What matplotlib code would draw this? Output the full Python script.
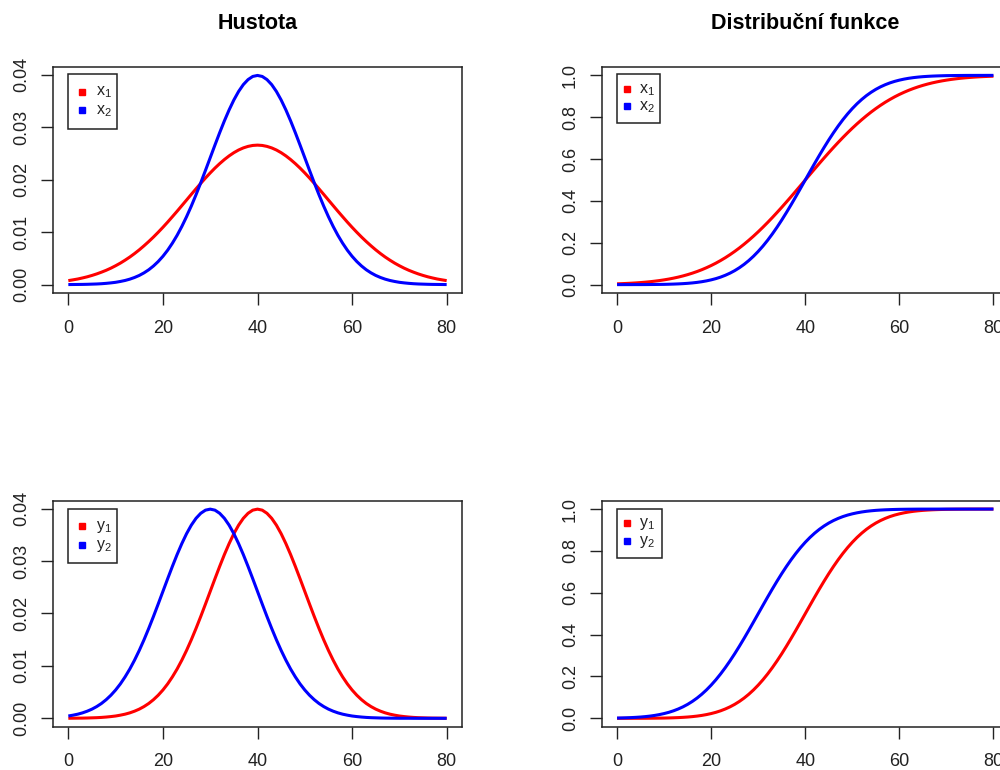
import matplotlib
matplotlib.use("Agg")
import matplotlib.pyplot as plt
from matplotlib.patches import Rectangle
from matplotlib.lines import Line2D

plt.rcParams['font.family'] = ['Liberation Sans', 'DejaVu Sans']

# ---------------- data (x = 0..80 step 1) ----------------
x_grid = list(range(0, 81))

dens_x1 = [0.00076, 0.00091, 0.00107, 0.00127, 0.00149, 0.00175, 0.00204, 0.00237, 0.00273, 0.00314,
           0.00360, 0.00410, 0.00466, 0.00526, 0.00592, 0.00663, 0.00740, 0.00821, 0.00907, 0.00998,
           0.01093, 0.01192, 0.01295, 0.01399, 0.01506, 0.01613, 0.01721, 0.01827, 0.01931, 0.02033,
           0.02130, 0.02222, 0.02307, 0.02385, 0.02455, 0.02516, 0.02567, 0.02607, 0.02636, 0.02654,
           0.02660,
           0.02654, 0.02636, 0.02607, 0.02567, 0.02516, 0.02455, 0.02385, 0.02307, 0.02222, 0.02130,
           0.02033, 0.01931, 0.01827, 0.01721, 0.01613, 0.01506, 0.01399, 0.01295, 0.01192, 0.01093,
           0.00998, 0.00907, 0.00821, 0.00740, 0.00663, 0.00592, 0.00526, 0.00466, 0.00410, 0.00360,
           0.00314, 0.00273, 0.00237, 0.00204, 0.00175, 0.00149, 0.00127, 0.00107, 0.00091, 0.00076]

dens_x2 = [0.00001, 0.00002, 0.00003, 0.00004, 0.00006, 0.00009, 0.00012, 0.00017, 0.00024, 0.00033,
           0.00044, 0.00060, 0.00079, 0.00104, 0.00136, 0.00175, 0.00224, 0.00283, 0.00355, 0.00440,
           0.00540, 0.00656, 0.00790, 0.00940, 0.01109, 0.01295, 0.01497, 0.01714, 0.01942, 0.02179,
           0.02420, 0.02661, 0.02897, 0.03123, 0.03332, 0.03521, 0.03683, 0.03814, 0.03910, 0.03970,
           0.03989,
           0.03970, 0.03910, 0.03814, 0.03683, 0.03521, 0.03332, 0.03123, 0.02897, 0.02661, 0.02420,
           0.02179, 0.01942, 0.01714, 0.01497, 0.01295, 0.01109, 0.00940, 0.00790, 0.00656, 0.00540,
           0.00440, 0.00355, 0.00283, 0.00224, 0.00175, 0.00136, 0.00104, 0.00079, 0.00060, 0.00044,
           0.00033, 0.00024, 0.00017, 0.00012, 0.00009, 0.00006, 0.00004, 0.00003, 0.00002, 0.00001]

cdf_x1 = [0.0038, 0.0047, 0.0057, 0.0068, 0.0082, 0.0098, 0.0117, 0.0139, 0.0165, 0.0194,
          0.0228, 0.0266, 0.0310, 0.0359, 0.0415, 0.0478, 0.0548, 0.0626, 0.0712, 0.0808,
          0.0912, 0.1026, 0.1151, 0.1285, 0.1431, 0.1587, 0.1753, 0.1931, 0.2119, 0.2317,
          0.2525, 0.2743, 0.2969, 0.3204, 0.3446, 0.3694, 0.3949, 0.4207, 0.4470, 0.4734,
          0.5000,
          0.5266, 0.5530, 0.5793, 0.6051, 0.6306, 0.6554, 0.6796, 0.7031, 0.7257, 0.7475,
          0.7683, 0.7881, 0.8069, 0.8247, 0.8413, 0.8569, 0.8715, 0.8849, 0.8974, 0.9088,
          0.9192, 0.9288, 0.9374, 0.9452, 0.9522, 0.9585, 0.9641, 0.9690, 0.9734, 0.9772,
          0.9806, 0.9835, 0.9861, 0.9883, 0.9902, 0.9918, 0.9932, 0.9943, 0.9953, 0.9962]

cdf_x2 = [0.0000, 0.0000, 0.0001, 0.0001, 0.0002, 0.0002, 0.0003, 0.0005, 0.0007, 0.0010,
          0.0013, 0.0019, 0.0026, 0.0035, 0.0047, 0.0062, 0.0082, 0.0107, 0.0139, 0.0179,
          0.0228, 0.0287, 0.0359, 0.0446, 0.0548, 0.0668, 0.0808, 0.0968, 0.1151, 0.1357,
          0.1587, 0.1841, 0.2119, 0.2420, 0.2743, 0.3085, 0.3446, 0.3821, 0.4207, 0.4602,
          0.5000,
          0.5398, 0.5793, 0.6179, 0.6554, 0.6915, 0.7257, 0.7580, 0.7881, 0.8159, 0.8413,
          0.8643, 0.8849, 0.9032, 0.9192, 0.9332, 0.9452, 0.9554, 0.9641, 0.9713, 0.9772,
          0.9821, 0.9861, 0.9893, 0.9918, 0.9938, 0.9953, 0.9965, 0.9974, 0.9981, 0.9987,
          0.9990, 0.9993, 0.9995, 0.9997, 0.9998, 0.9998, 0.9999, 0.9999, 1.0000, 1.0000]

dens_y1 = [0.00001, 0.00002, 0.00003, 0.00004, 0.00006, 0.00009, 0.00012, 0.00017, 0.00024, 0.00033,
           0.00044, 0.00060, 0.00079, 0.00104, 0.00136, 0.00175, 0.00224, 0.00283, 0.00355, 0.00440,
           0.00540, 0.00656, 0.00790, 0.00940, 0.01109, 0.01295, 0.01497, 0.01714, 0.01942, 0.02179,
           0.02420, 0.02661, 0.02897, 0.03123, 0.03332, 0.03521, 0.03683, 0.03814, 0.03910, 0.03970,
           0.03989,
           0.03970, 0.03910, 0.03814, 0.03683, 0.03521, 0.03332, 0.03123, 0.02897, 0.02661, 0.02420,
           0.02179, 0.01942, 0.01714, 0.01497, 0.01295, 0.01109, 0.00940, 0.00790, 0.00656, 0.00540,
           0.00440, 0.00355, 0.00283, 0.00224, 0.00175, 0.00136, 0.00104, 0.00079, 0.00060, 0.00044,
           0.00033, 0.00024, 0.00017, 0.00012, 0.00009, 0.00006, 0.00004, 0.00003, 0.00002, 0.00001]

dens_y2 = [0.00044, 0.00060, 0.00079, 0.00104, 0.00136, 0.00175, 0.00224, 0.00283, 0.00355, 0.00440,
           0.00540, 0.00656, 0.00790, 0.00940, 0.01109, 0.01295, 0.01497, 0.01714, 0.01942, 0.02179,
           0.02420, 0.02661, 0.02897, 0.03123, 0.03332, 0.03521, 0.03683, 0.03814, 0.03910, 0.03970,
           0.03989,
           0.03970, 0.03910, 0.03814, 0.03683, 0.03521, 0.03332, 0.03123, 0.02897, 0.02661, 0.02420,
           0.02179, 0.01942, 0.01714, 0.01497, 0.01295, 0.01109, 0.00940, 0.00790, 0.00656, 0.00540,
           0.00440, 0.00355, 0.00283, 0.00224, 0.00175, 0.00136, 0.00104, 0.00079, 0.00060, 0.00044,
           0.00033, 0.00024, 0.00017, 0.00012, 0.00009, 0.00006, 0.00004, 0.00003, 0.00002, 0.00001,
           0.00001, 0.00001, 0.00000, 0.00000, 0.00000, 0.00000, 0.00000, 0.00000, 0.00000, 0.00000]

cdf_y1 = [0.0000, 0.0000, 0.0001, 0.0001, 0.0002, 0.0002, 0.0003, 0.0005, 0.0007, 0.0010,
          0.0013, 0.0019, 0.0026, 0.0035, 0.0047, 0.0062, 0.0082, 0.0107, 0.0139, 0.0179,
          0.0228, 0.0287, 0.0359, 0.0446, 0.0548, 0.0668, 0.0808, 0.0968, 0.1151, 0.1357,
          0.1587, 0.1841, 0.2119, 0.2420, 0.2743, 0.3085, 0.3446, 0.3821, 0.4207, 0.4602,
          0.5000,
          0.5398, 0.5793, 0.6179, 0.6554, 0.6915, 0.7257, 0.7580, 0.7881, 0.8159, 0.8413,
          0.8643, 0.8849, 0.9032, 0.9192, 0.9332, 0.9452, 0.9554, 0.9641, 0.9713, 0.9772,
          0.9821, 0.9861, 0.9893, 0.9918, 0.9938, 0.9953, 0.9965, 0.9974, 0.9981, 0.9987,
          0.9990, 0.9993, 0.9995, 0.9997, 0.9998, 0.9998, 0.9999, 0.9999, 1.0000, 1.0000]

cdf_y2 = [0.0013, 0.0019, 0.0026, 0.0035, 0.0047, 0.0062, 0.0082, 0.0107, 0.0139, 0.0179,
          0.0228, 0.0287, 0.0359, 0.0446, 0.0548, 0.0668, 0.0808, 0.0968, 0.1151, 0.1357,
          0.1587, 0.1841, 0.2119, 0.2420, 0.2743, 0.3085, 0.3446, 0.3821, 0.4207, 0.4602,
          0.5000,
          0.5398, 0.5793, 0.6179, 0.6554, 0.6915, 0.7257, 0.7580, 0.7881, 0.8159, 0.8413,
          0.8643, 0.8849, 0.9032, 0.9192, 0.9332, 0.9452, 0.9554, 0.9641, 0.9713, 0.9772,
          0.9821, 0.9861, 0.9893, 0.9918, 0.9938, 0.9953, 0.9965, 0.9974, 0.9981, 0.9987,
          0.9990, 0.9993, 0.9995, 0.9997, 0.9998, 0.9998, 0.9999, 0.9999, 1.0000, 1.0000,
          1.0000, 1.0000, 1.0000, 1.0000, 1.0000, 1.0000, 1.0000, 1.0000, 1.0000, 1.0000]

titles = ["Hustota", "Distribuční funkce"]
x_ticks = [0, 20, 40, 60, 80]
dens_ticks = [0.00, 0.01, 0.02, 0.03, 0.04]
dens_ticklabels = ["0.00", "0.01", "0.02", "0.03", "0.04"]
cdf_ticks = [0.0, 0.2, 0.4, 0.6, 0.8, 1.0]
cdf_ticklabels = ["0.0", "0.2", "0.4", "0.6", "0.8", "1.0"]
labels_x = [r"$\mathregular{x_1}$", r"$\mathregular{x_2}$"]
labels_y = [r"$\mathregular{y_1}$", r"$\mathregular{y_2}$"]

RED = "#FF0000"
BLUE = "#0000FF"
INK = "#222222"

W, H = 1000, 770
fig = plt.figure(figsize=(10, 7.7), dpi=100)


def rect_px(l, t, r, b):
    return [l / W, 1 - b / H, (r - l) / W, (b - t) / H]


panels = [
    (rect_px(53.2, 67, 461.8, 293), (dens_x1, dens_x2), (-0.0016, 0.04150),
     dens_ticks, dens_ticklabels, labels_x, (68.3, 74, 116.7, 129), (81.7, 91.7, 110), 96),
    (rect_px(602.0, 67, 1008.5, 293), (cdf_x1, cdf_x2), (-0.04, 1.04),
     cdf_ticks, cdf_ticklabels, labels_x, (616.7, 74, 660, 122.7), (627.3, 89, 106), 639),
    (rect_px(53.2, 500.7, 461.8, 726.7), (dens_y1, dens_y2), (-0.0016, 0.04150),
     dens_ticks, dens_ticklabels, labels_y, (68.3, 509.3, 116.7, 563.3), (81.7, 526, 545), 96),
    (rect_px(602.0, 500.7, 1008.5, 726.7), (cdf_y1, cdf_y2), (-0.04, 1.04),
     cdf_ticks, cdf_ticklabels, labels_y, (616.7, 509.3, 661.7, 557.7), (627.3, 523.3, 540.7), 639),
]

for i, (box, series, ylim, yt, ytl, leg_labels, leg_box, mk, tx) in enumerate(panels):
    ax = fig.add_axes(box)
    ax.plot(x_grid, series[0], color=RED, lw=2.2, solid_joinstyle='round', solid_capstyle='butt')
    ax.plot(x_grid, series[1], color=BLUE, lw=2.2, solid_joinstyle='round', solid_capstyle='butt')
    ax.set_xlim(-3.2, 83.2)
    ax.set_ylim(*ylim)
    ax.set_xticks(x_ticks)
    ax.set_xticklabels([str(v) for v in x_ticks])
    ax.set_yticks(yt)
    ax.set_yticklabels(ytl, rotation=90, va='center')
    for s in ax.spines.values():
        s.set_color(INK)
        s.set_linewidth(1.1)
    ax.tick_params(axis='both', length=8.6, width=1.0, color=INK, labelcolor=INK,
                   labelsize=13)
    ax.tick_params(axis='x', pad=10.5)
    ax.tick_params(axis='y', pad=8)
    if i < 2:
        ax.set_title(titles[i], fontsize=15.5, fontweight='bold', color='black', pad=27.5)

    # legend box and entries (layout in pixel coordinates)
    l, t, r, b = leg_box
    fig.patches.append(Rectangle((l / W, 1 - b / H), (r - l) / W, (b - t) / H,
                                 transform=fig.transFigure, fill=False,
                                 edgecolor=INK, linewidth=1.1))
    mx, my1, my2 = mk
    for my, col, lab in ((my1, RED, leg_labels[0]), (my2, BLUE, leg_labels[1])):
        fig.lines.append(Line2D([mx / W], [1 - my / H], transform=fig.transFigure,
                                marker='s', markersize=4.0, color=col, linestyle='none'))
        fig.text(tx / W, 1 - (my + 4) / H, lab, fontsize=11.5, color=INK,
                 ha='left', va='baseline')

fig.savefig("out.png", dpi=100)
